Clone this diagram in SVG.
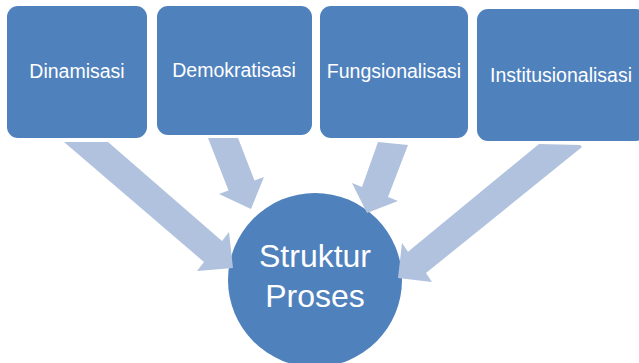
<svg xmlns="http://www.w3.org/2000/svg" width="639" height="363" viewBox="0 0 639 363">
<style>
.box{fill:#4F81BD;}
.arr{fill:#B1C2DE;}
.lbl{font-family:"Liberation Sans",Arial,sans-serif;font-size:19.5px;fill:#FFFFFF;text-anchor:middle;}
.big{font-family:"Liberation Sans",Arial,sans-serif;font-size:32px;fill:#FFFFFF;text-anchor:middle;}
</style>
<rect width="639" height="363" fill="#FFFFFF"/>
<g id="node-dinamisasi">
<rect class="box" x="7" y="6" width="140" height="132" rx="11"/>
<text class="lbl" x="77" y="78">Dinamisasi</text>
</g>
<g id="node-demokratisasi">
<rect class="box" x="157" y="6" width="155" height="129" rx="11"/>
<text class="lbl" x="234" y="77">Demokratisasi</text>
</g>
<g id="node-fungsionalisasi">
<rect class="box" x="320" y="6" width="148" height="132" rx="11"/>
<text class="lbl" x="394" y="78">Fungsionalisasi</text>
</g>
<g id="node-institusionalisasi">
<rect class="box" x="477" y="9" width="170" height="132" rx="11"/>
<text class="lbl" x="561" y="82">Institusionalisasi</text>
</g>
<g id="node-struktur-proses">
<circle class="box" cx="315" cy="280" r="87"/>
<text class="big" x="315" y="267">Struktur</text>
<text class="big" x="315" y="307">Proses</text>
</g>
<g id="connectors">
<polygon class="arr" points="64,142 108,142 222,241 229,232 233,268 197,271 204,262"/>
<polygon class="arr" points="208,138 238,138 254.5,180.4 264,177 251,209 219,194 228.5,190.6"/>
<polygon class="arr" points="378,142 408,145 388,197 398,201 367,213 352,183 362,187"/>
<polygon class="arr" points="539,144 580,145 582,147 426,273 432,282 398,278 402,243 408,251.7"/>
</g>
</svg>
